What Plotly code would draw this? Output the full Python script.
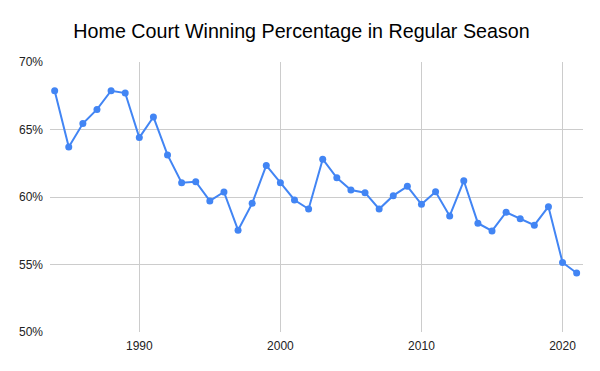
import plotly.graph_objects as go

years = list(range(1984, 2022))
home_win_pct = [
    67.87, 63.71, 65.44, 66.49, 67.87, 67.70, 64.40, 65.93, 63.12, 61.06,
    61.13, 59.71, 60.37, 57.54, 59.53, 62.34, 61.06, 59.78, 59.11, 62.80,
    61.42, 60.52, 60.32, 59.11, 60.10, 60.79, 59.46, 60.39, 58.60, 61.20,
    58.06, 57.49, 58.87, 58.38, 57.91, 59.28, 55.15, 54.37,
]
home_win_frac = [v / 100 for v in home_win_pct]
x_ticks = [1990, 2000, 2010, 2020]
y_ticks = [0.50, 0.55, 0.60, 0.65, 0.70]
y_tick_labels = ["50%", "55%", "60%", "65%", "70%"]

W, H = 592, 363  # page body has an 8px margin

fig = go.Figure(
    go.Scatter(
        x=years,
        y=home_win_frac,
        mode="lines+markers",
        line=dict(color="#4285F4", width=2),
        marker=dict(color="#4285F4", size=7),
        hoverinfo="x+y",
    )
)

fig.update_layout(
    width=W,
    height=H,
    paper_bgcolor="white",
    plot_bgcolor="white",
    margin=dict(l=42, r=17, t=53.5, b=38.5, autoexpand=False),
    showlegend=False,
    font=dict(family="Liberation Sans, Arial, sans-serif", color="#444444", size=12),
    title=dict(
        text="Home Court Winning Percentage in Regular Season",
        x=293.5 / W,
        xanchor="center",
        y=1 - 23 / H,
        yanchor="middle",
        font=dict(family="Liberation Sans, Arial, sans-serif", size=19.7, color="#000000"),
    ),
    xaxis=dict(
        range=[1983.67, 2021.45],
        tickvals=x_ticks,
        ticktext=[str(t) for t in x_ticks],
        showgrid=True,
        gridcolor="#cccccc",
        gridwidth=1,
        zeroline=False,
        showline=False,
        ticks="",
        automargin=False,
        ticklabelstandoff=5,
        tickfont=dict(size=12, color="#222222"),
    ),
    yaxis=dict(
        range=[0.50, 0.70],
        tickvals=y_ticks,
        ticktext=y_tick_labels,
        showgrid=True,
        gridcolor="#cccccc",
        gridwidth=1,
        zeroline=False,
        showline=False,
        ticks="",
        automargin=False,
        ticklabelstandoff=6,
        tickfont=dict(size=12, color="#222222"),
    ),
)

fig.write_html("out.html")
